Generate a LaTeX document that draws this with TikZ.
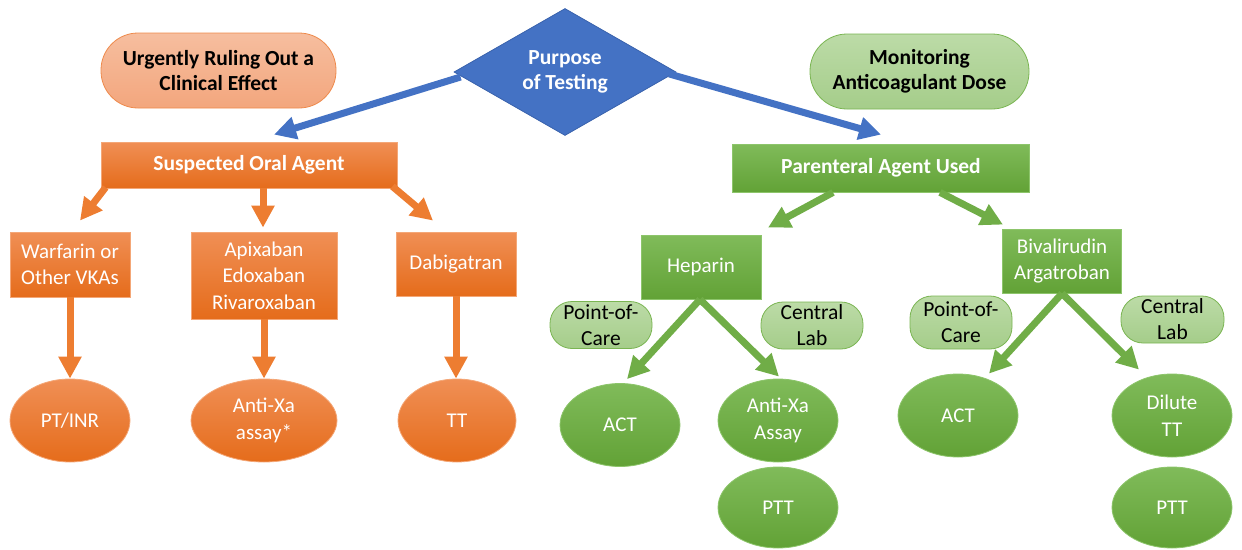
\documentclass[tikz,border=0pt]{standalone}
\usepackage{fontspec}
\setmainfont{Carlito}
\usetikzlibrary{arrows.meta,shapes.geometric,calc}
\definecolor{oTop}{HTML}{F08F55}
\definecolor{oBot}{HTML}{E56C1B}
\definecolor{oLine}{HTML}{F4A777}
\definecolor{oArr}{HTML}{ED7D31}
\definecolor{gTop}{HTML}{80BB5A}
\definecolor{gBot}{HTML}{62A236}
\definecolor{gLine}{HTML}{8DC56B}
\definecolor{gArr}{HTML}{70AD47}
\definecolor{bFill}{HTML}{4472C4}
\definecolor{bLine}{HTML}{3A63AD}
\definecolor{loTop}{HTML}{F6BE9F}
\definecolor{loBot}{HTML}{F3A67D}
\definecolor{loLine}{HTML}{EE8A4C}
\definecolor{lgTop}{HTML}{BCDBA7}
\definecolor{lgBot}{HTML}{A5CD8A}
\definecolor{lgLine}{HTML}{7AB552}
\tikzset{
  reg/.style={font=\fontsize{21}{26.5}\selectfont, align=center, text=white, inner sep=0pt},
  hdr/.style={font=\bfseries\fontsize{21.5}{25.5}\selectfont, align=center, text=white, inner sep=0pt},
  obox/.style={reg, rectangle, top color=oTop, bottom color=oBot, draw=oLine, line width=0.8pt},
  gbox/.style={reg, rectangle, top color=gTop, bottom color=gBot, draw=gLine, line width=0.8pt},
  ohdr/.style={hdr, rectangle, top color=oTop, bottom color=oBot, draw=oLine, line width=0.8pt},
  ghdr/.style={hdr, rectangle, top color=gTop, bottom color=gBot, draw=gLine, line width=0.8pt},
  oov/.style={reg, ellipse, top color=oTop, bottom color=oBot, draw=oLine, line width=0.8pt},
  gov/.style={reg, ellipse, top color=gTop, bottom color=gBot, draw=gLine, line width=0.8pt},
  opill/.style={font=\bfseries\fontsize{21.5}{25.5}\selectfont, align=center, text=black, inner sep=0pt,
    rectangle, rounded corners=37pt, top color=loTop, bottom color=loBot, draw=loLine, line width=0.8pt},
  gpill/.style={opill, top color=lgTop, bottom color=lgBot, draw=lgLine},
  spill/.style={font=\fontsize{21.5}{26}\selectfont, align=center, text=black, inner sep=0pt,
    rectangle, rounded corners=22pt, top color=lgTop, bottom color=lgBot, draw=lgLine, line width=0.8pt},
  arr/.style={line width=7pt, -{Triangle[width=22pt,length=22pt]}},
  oarr/.style={arr, draw=oArr},
  garr/.style={arr, draw=gArr},
  barr/.style={arr, draw=bFill},
}
\begin{document}
\begin{tikzpicture}[x=1pt,y=-1pt]
\useasboundingbox (0,0) rectangle (1242,549);
% top
\node[opill, minimum width=235pt, minimum height=75pt] (urg) at (218.5,70.5) {Urgently Ruling Out a\\Clinical Effect};
\node[gpill, minimum width=219pt, minimum height=75pt] (mon) at (919.5,71.5) {Monitoring\\Anticoagulant Dose};
\node[diamond, aspect=1.75, minimum width=222pt, minimum height=127pt, fill=bFill, draw=bLine, line width=0.8pt,
  hdr] (dia) at (565,72) {Purpose\\of Testing};
% second level
\node[ohdr, minimum width=296pt, minimum height=46pt] (sus) at (249,165) {Suspected Oral Agent};
\node[ghdr, minimum width=297pt, minimum height=48pt] (par) at (881,168) {Parenteral Agent Used};
% left boxes
\node[obox, minimum width=120pt, minimum height=65pt] (warf) at (70,264.5) {Warfarin or\\Other VKAs};
\node[obox, minimum width=146pt, minimum height=87pt] (apix) at (264,275.5) {Apixaban\\Edoxaban\\Rivaroxaban};
\node[obox, minimum width=120pt, minimum height=64pt] (dab) at (456,264) {Dabigatran};
% left ovals
\node[oov, minimum width=120pt, minimum height=83pt] (pt) at (70,420.5) {PT/INR};
\node[oov, minimum width=146pt, minimum height=83pt] (axa) at (264,420.5) {Anti-Xa\\assay*};
\node[oov, minimum width=118pt, minimum height=83pt] (tt) at (457,420.5) {TT};
% right boxes
\node[gbox, minimum width=120pt, minimum height=64pt] (hep) at (701,267) {Heparin};
\node[gbox, minimum width=119pt, minimum height=64pt] (biv) at (1062,261) {Bivalirudin\\Argatroban};
% small pills
\node[spill, minimum width=102pt, minimum height=47pt] (poca) at (601,325) {Point-of-\\Care};
\node[spill, minimum width=102pt, minimum height=47pt] (cla) at (812,325.5) {Central\\Lab};
\node[spill, minimum width=102pt, minimum height=53pt] (pocb) at (961,322.5) {Point-of-\\Care};
\node[spill, minimum width=103pt, minimum height=47pt] (clb) at (1172.5,319.5) {Central\\Lab};
% green ovals
\node[gov, minimum width=120pt, minimum height=83pt] (acta) at (620,425) {ACT};
\node[gov, minimum width=120pt, minimum height=83pt] (axb) at (778,420.5) {Anti-Xa\\Assay};
\node[gov, minimum width=120pt, minimum height=81pt] (ptta) at (778,507.5) {PTT};
\node[gov, minimum width=120pt, minimum height=83pt] (actb) at (958,415.5) {ACT};
\node[gov, minimum width=120pt, minimum height=83pt] (dtt) at (1172,415.5) {Dilute\\TT};
\node[gov, minimum width=120pt, minimum height=81pt] (pttb) at (1172,507.5) {PTT};
% blue arrows
\draw[barr] ($(dia.west)+(7,5)$) -- ($(sus.north)+(25,-7)$);
\draw[barr] ($(dia.east)+(-7,2)$) -- ($(par.north)+(0,-9)$);
% orange arrows
\draw[oarr] ($(sus.south west)+(5,-1)$) -- ($(warf.north)+(10,-11)$);
\draw[oarr] ($(sus.south)+(14,0)$) -- ($(apix.north)+(-1,-4)$);
\draw[oarr] ($(sus.south east)+(-5,-2)$) -- ($(dab.north)+(-23,-11)$);
\draw[oarr] (warf.south) -- (pt.north);
\draw[oarr] (apix.south) -- (axa.north);
\draw[oarr] (dab.south) -- ($(tt.north)+(-1,0)$);
% green arrows
\draw[garr] ($(par.south)+(-48,0)$) -- ($(hep.north)+(67,-7)$);
\draw[garr] ($(par.south)+(59,0)$) -- ($(biv.north)+(-59,-4)$);
\draw[garr] ($(hep.south)+(-1,0)$) -- ($(acta.north)+(7,-4)$);
\draw[garr] ($(hep.south)+(-1,0)$) -- ($(axb.north)+(1,-2)$);
\draw[garr] (biv.south) -- ($(actb.north)+(31,0)$);
\draw[garr] (biv.south) -- ($(dtt.north)+(-33,-4)$);
\end{tikzpicture}
\end{document}
